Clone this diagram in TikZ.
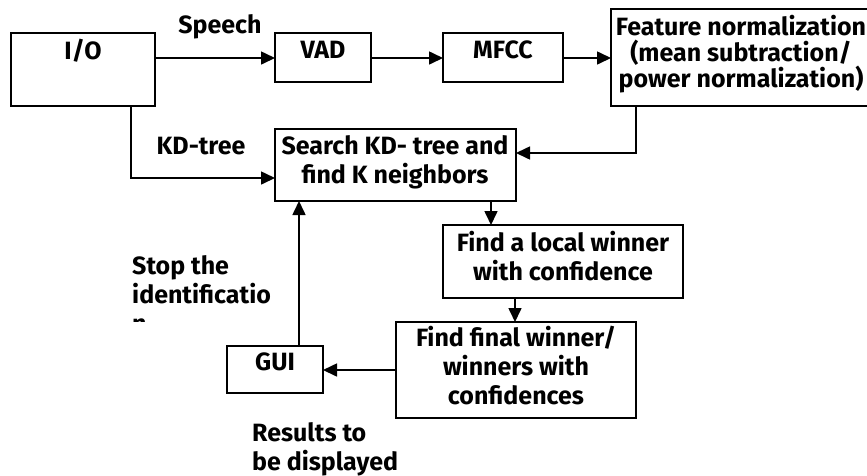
\documentclass[tikz,border=0pt]{standalone}
\usepackage{fontspec}
\setmainfont{Fira Sans}
\usetikzlibrary{arrows.meta}
\begin{document}
\begin{tikzpicture}[x=1pt,y=-1pt,
  box/.style={draw,line width=1.6pt,inner sep=0pt,outer sep=0pt},
  txt/.style={font=\fontsize{25}{28.7}\selectfont\bfseries,align=center,inner sep=0pt,anchor=base},
  ltxt/.style={font=\fontsize{25}{28.7}\selectfont\bfseries,align=left,inner sep=0pt,anchor=base west},
  conn/.style={line width=1.6pt,-{Triangle[length=14pt,width=13pt]}},
]
\useasboundingbox (0,0) rectangle (867,475);
\clip (0,0) rectangle (867,475);

% boxes
\node[box,minimum width=144pt,minimum height=73pt] (io) at (83,69.5) {};
\node[box,minimum width=96pt,minimum height=49pt] (vad) at (323,57.5) {};
\node[box,minimum width=120pt,minimum height=49pt] (mfcc) at (503,57.5) {};
\node[box,minimum width=260pt,minimum height=97pt] (feat) at (741,57.5) {};
\node[box,minimum width=241pt,minimum height=72pt] (search) at (395.5,165) {};
\node[box,minimum width=240pt,minimum height=73pt] (local) at (563,261.5) {};
\node[box,minimum width=240pt,minimum height=96pt] (final) at (516,370) {};
\node[box,minimum width=96pt,minimum height=47pt] (gui) at (275,369.5) {};

% box texts (anchor = baseline of last line)
\node[txt] (tio) at (83,59) {I/O};
\node[txt] (tvad) at (323,58) {VAD};
\node[txt] (tmfcc) at (503,58) {MFCC};
\node[txt,font=\fontsize{25}{26}\selectfont\bfseries] (tfeat) at (741,87) {Feature normalization\\(mean subtraction/\\power normalization)};
\node[txt] (tsearch) at (395,183) {Search KD- tree and\\find K neighbors};
\node[txt] (tlocal) at (563,280) {Find a local winner\\with confidence};
\node[txt] (tfinal) at (516,404) {Find final winner/\\winners with\\confidences};
\node[txt] (tgui) at (275,370) {GUI};

% labels
\node[txt] (lspeech) at (220,33) {Speech};
\node[txt] (lkd) at (201,154) {KD-tree};
\begin{scope}
\clip (100,250) rectangle (293,321.5);
\node[ltxt] (lstop) at (132,332) {Stop the\\identificatio\\n};
\end{scope}
\node[ltxt] (lres) at (252,470) {Results to\\be displayed};

% connectors
\draw[conn] (io.east |- 0,58) -- (vad.west |- 0,58);
\draw[conn] (vad.east |- 0,58) -- (mfcc.west |- 0,58);
\draw[conn] (mfcc.east |- 0,58) -- (feat.west |- 0,58);
\draw[conn] (feat.south -| 636,0) -- (636,153) -- (search.east |- 0,153);
\draw[conn] (io.south -| 131,0) -- (131,178) -- (search.west |- 0,178);
\draw[conn] (search.south -| 491,0) -- (local.north -| 491,0);
\draw[conn] (local.south -| 515,0) -- (final.north -| 515,0);
\draw[conn] (final.west |- 0,370) -- (gui.east |- 0,370);
\draw[conn] (gui.north -| 299,0) -- (search.south -| 299,0);
\end{tikzpicture}
\end{document}
